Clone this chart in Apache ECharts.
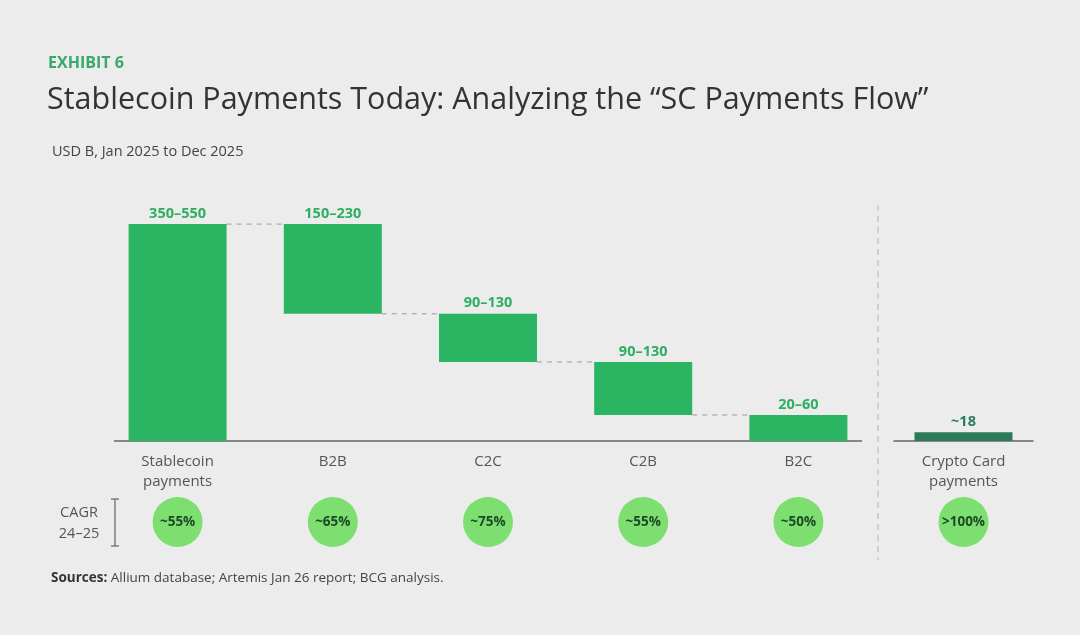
<!DOCTYPE html>
<html>
<head>
<meta charset="utf-8">
<title>Stablecoin Payments Today</title>
<script src="https://cdn.jsdelivr.net/npm/echarts@6/dist/echarts.min.js"></script>
<style>
  html, body { margin: 0; padding: 0; background: #ececec; }
  #chart { width: 1080px; height: 635px; }
</style>
</head>
<body>
<div id="chart"></div>
<script>
// flow categories and midpoints (USD B)
var flowCats = ['Stablecoin\npayments', 'B2B', 'C2C', 'C2B', 'B2C'];
var flowValues = [450, 186, 100, 110, 54];
var flowRanges = ['350–550', '150–230', '90–130', '90–130', '20–60'];
var flowCagr = ['~55%', '~65%', '~75%', '~55%', '~50%'];

var cardCats = ['Crypto Card\npayments'];
var cardValues = [18];
var cardLabels = ['~18'];
var cardCagr = ['>100%'];

var GREEN = '#2bb563';
var DARK = '#2b7a5a';
var CIRCLE = '#7cdf6f';

// waterfall: first bar is the total, the rest hang from the running level
var base = [0], level = flowValues[0], connectors = [[0, level]];
for (var i = 1; i < flowValues.length; i++) {
    level -= flowValues[i];
    base.push(level);
    if (i < flowValues.length - 1) connectors.push([i, level]);
}

var chart = echarts.init(document.getElementById('chart'));

var catLabel = { color: '#555', fontSize: 15, lineHeight: 20, margin: 11, fontFamily: 'Open Sans' };

option = {
    backgroundColor: '#ececec',
    textStyle: { fontFamily: 'Open Sans' },
    title: [
        { text: 'EXHIBIT 6', left: 43, top: 50, textStyle: { color: '#3aa86a', fontSize: 16, fontWeight: 'bold' } },
        { text: 'Stablecoin Payments Today: Analyzing the \u201cSC Payments Flow\u201d', left: 42, top: 80,
          textStyle: { color: '#333', fontSize: 30.5, fontWeight: 'normal' } },
        { text: 'USD B, Jan 2025 to Dec 2025', left: 47, top: 139, textStyle: { color: '#444', fontSize: 14.5, fontWeight: 'normal' } }
    ],
    grid: [
        { left: 100, width: 776, top: 200, height: 241 },
        { left: 894, width: 139, top: 200, height: 241 },
        { left: 100, width: 776, top: 498, height: 48 },
        { left: 894, width: 139, top: 498, height: 48 }
    ],
    xAxis: [
        { type: 'category', gridIndex: 0, data: flowCats, axisLine: { show: false }, axisTick: { show: false }, axisLabel: catLabel },
        { type: 'category', gridIndex: 1, data: cardCats, axisLine: { lineStyle: { color: '#666', width: 1.5 } }, axisTick: { show: false }, axisLabel: catLabel },
        { type: 'category', gridIndex: 2, data: flowCats, show: false },
        { type: 'category', gridIndex: 3, data: cardCats, show: false }
    ],
    yAxis: [
        { type: 'value', gridIndex: 0, min: 0, max: 500, show: false },
        { type: 'value', gridIndex: 1, min: 0, max: 500, show: false },
        { type: 'value', gridIndex: 2, min: 0, max: 1, show: false },
        { type: 'value', gridIndex: 3, min: 0, max: 1, show: false }
    ],
    series: [
        {
            type: 'bar', stack: 'flow', xAxisIndex: 0, yAxisIndex: 0, barWidth: 98,
            itemStyle: { color: 'transparent' }, data: base, silent: true
        },
        {
            type: 'bar', stack: 'flow', xAxisIndex: 0, yAxisIndex: 0, barWidth: 98,
            itemStyle: { color: GREEN },
            label: {
                show: true, position: 'top', distance: 3, color: '#2fae62', fontSize: 14.5, fontWeight: 'bold',
                formatter: function (p) { return flowRanges[p.dataIndex]; }
            },
            data: flowValues
        },
        {
            type: 'custom', xAxisIndex: 0, yAxisIndex: 0, silent: true,
            renderItem: function (params, api) {
                var a = api.coord([api.value(0), api.value(1)]);
                var b = api.coord([api.value(0) + 1, api.value(1)]);
                return {
                    type: 'line',
                    shape: { x1: a[0] + 49, y1: a[1], x2: b[0] - 49, y2: b[1] },
                    style: { stroke: '#a8a8a8', lineWidth: 1.2, lineDash: [5, 5] }
                };
            },
            data: connectors
        },
        {
            type: 'bar', xAxisIndex: 1, yAxisIndex: 1, barWidth: 98,
            itemStyle: { color: DARK },
            label: {
                show: true, position: 'top', distance: 3, color: DARK, fontSize: 14.5, fontWeight: 'bold',
                formatter: function (p) { return cardLabels[p.dataIndex]; }
            },
            data: cardValues
        },
        {
            type: 'scatter', xAxisIndex: 2, yAxisIndex: 2, symbolSize: 50,
            itemStyle: { color: CIRCLE, opacity: 1 },
            label: {
                show: true, position: 'inside', color: '#1d4a2a', fontSize: 13.5, fontWeight: 'bold',
                formatter: function (p) { return flowCagr[p.dataIndex]; }
            },
            data: flowCagr.map(function () { return 0.5; })
        },
        {
            type: 'scatter', xAxisIndex: 3, yAxisIndex: 3, symbolSize: 50,
            itemStyle: { color: CIRCLE, opacity: 1 },
            label: {
                show: true, position: 'inside', color: '#1d4a2a', fontSize: 13.5, fontWeight: 'bold',
                formatter: function (p) { return cardCagr[p.dataIndex]; }
            },
            data: cardCagr.map(function () { return 0.5; })
        }
    ],
    graphic: [
        // baseline of the flow chart
        { type: 'line', shape: { x1: 114, y1: 441, x2: 862, y2: 441 }, style: { stroke: '#666', lineWidth: 1.5 } },
        // separator
        { type: 'line', shape: { x1: 878, y1: 205, x2: 878, y2: 560 }, style: { stroke: '#bbb', lineWidth: 1.2, lineDash: [6, 5] } },
        // CAGR bracket
        { type: 'line', shape: { x1: 115, y1: 499, x2: 115, y2: 546 }, style: { stroke: '#666', lineWidth: 1.2 } },
        { type: 'line', shape: { x1: 111, y1: 499, x2: 119, y2: 499 }, style: { stroke: '#666', lineWidth: 1.2 } },
        { type: 'line', shape: { x1: 111, y1: 546, x2: 119, y2: 546 }, style: { stroke: '#666', lineWidth: 1.2 } },
        { type: 'text', x: 79, y: 502, style: { text: 'CAGR\n24–25', fill: '#555', font: '14.5px "Open Sans"', lineHeight: 21, textAlign: 'center' } },
        {
            type: 'text', left: 51, top: 571,
            style: {
                text: '{b|Sources:} Allium database; Artemis Jan 26 report; BCG analysis.',
                rich: {
                    b: { fontWeight: 'bold', fill: '#333', fontSize: 13.5, fontFamily: 'Open Sans' }
                },
                fill: '#444', font: '13.5px "Open Sans"'
            }
        }
    ]
};

chart.setOption(option);
</script>
</body>
</html>
